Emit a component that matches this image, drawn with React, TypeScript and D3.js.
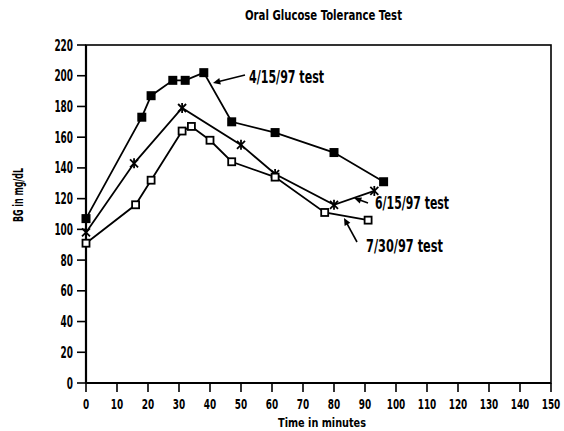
import React from "react";
import * as d3 from "d3";

const xTicks = [0, 10, 20, 30, 40, 50, 60, 70, 80, 90, 100, 110, 120, 130, 140, 150];
const yTicks = [0, 20, 40, 60, 80, 100, 120, 140, 160, 180, 200, 220];

const test0415Time = [0, 18, 21, 28, 32, 38, 47, 61, 80, 96];
const test0415BG = [107, 173, 187, 197, 197, 202, 170, 163, 150, 131];

const test0615Time = [0, 15.5, 31, 50, 61, 80, 93];
const test0615BG = [98, 143, 179, 155, 136, 116, 125];

const test0730Time = [0, 16, 21, 31, 34, 40, 47, 61, 77, 91];
const test0730BG = [91, 116, 132, 164, 167, 158, 144, 134, 111, 106];

const FONT = "'Liberation Sans Narrow', 'DejaVu Sans Condensed', 'Liberation Sans', sans-serif";

export default function App() {
  const W = 564, H = 431;
  const x = d3.scaleLinear().domain([0, 150]).range([86, 551]);
  const y = d3.scaleLinear().domain([0, 220]).range([383, 45]);
  const line = d3.line<[number, number]>().x(d => x(d[0])).y(d => y(d[1]));

  const s1 = test0415Time.map((t, i) => [t, test0415BG[i]] as [number, number]);
  const s2 = test0615Time.map((t, i) => [t, test0615BG[i]] as [number, number]);
  const s3 = test0730Time.map((t, i) => [t, test0730BG[i]] as [number, number]);

  const arrow = (x1: number, y1: number, x2: number, y2: number, key: string) => {
    const a = Math.atan2(y2 - y1, x2 - x1);
    const L = 8, w = 0.42;
    const p1 = [x2 - L * Math.cos(a - w), y2 - L * Math.sin(a - w)];
    const p2 = [x2 - L * Math.cos(a + w), y2 - L * Math.sin(a + w)];
    return (
      <g key={key}>
        <line x1={x1} y1={y1} x2={x2 - 4 * Math.cos(a)} y2={y2 - 4 * Math.sin(a)} stroke="#000" strokeWidth={1.6} />
        <polygon points={`${x2},${y2} ${p1[0]},${p1[1]} ${p2[0]},${p2[1]}`} fill="#000" />
      </g>
    );
  };

  const digitW = 6.2;

  return (
    <svg width={W} height={H} style={{ position: "absolute", left: 0, top: 0, background: "#fff" }} fontFamily={FONT}>
      <rect x={0} y={0} width={W} height={H} fill="#fff" />
      <text x={245} y={20} fontSize={14} fontWeight="bold" textLength={157} lengthAdjust="spacingAndGlyphs">Oral Glucose Tolerance Test</text>

      {/* frame */}
      <rect x={x(0)} y={y(220)} width={x(150) - x(0)} height={y(0) - y(220)} fill="none" stroke="#000" strokeWidth={1.6} />
      <line x1={x(0)} x2={x(0)} y1={y(220)} y2={y(0)} stroke="#000" strokeWidth={2.2} />
      <line x1={x(0)} x2={x(150)} y1={y(0)} y2={y(0)} stroke="#000" strokeWidth={2.2} />

      {yTicks.map(v => {
        const n = String(v).length;
        return (
          <g key={"y" + v}>
            <line x1={x(0) - 9} x2={x(0)} y1={y(v)} y2={y(v)} stroke="#000" strokeWidth={1.6} />
            <text x={73 - n * digitW} y={y(v) + 5.5} fontSize={15} fontWeight="bold" textLength={n * digitW} lengthAdjust="spacingAndGlyphs">{v}</text>
          </g>
        );
      })}
      {xTicks.map(v => {
        const n = String(v).length;
        return (
          <g key={"x" + v}>
            <line x1={x(v)} x2={x(v)} y1={y(0)} y2={y(0) + 9} stroke="#000" strokeWidth={1.6} />
            <text x={x(v) - (n * digitW) / 2} y={y(0) + 26} fontSize={14} fontWeight="bold" textLength={n * digitW} lengthAdjust="spacingAndGlyphs">{v}</text>
          </g>
        );
      })}
      <text x={278} y={427} fontSize={13} fontWeight="bold" textLength={88} lengthAdjust="spacingAndGlyphs">Time in minutes</text>
      <text transform="translate(23,222) rotate(-90)" fontSize={14} fontWeight="bold" textLength={54} lengthAdjust="spacingAndGlyphs">BG in mg/dL</text>

      {/* lines */}
      <path d={line(s1) || ""} fill="none" stroke="#000" strokeWidth={1.8} />
      <path d={line(s2) || ""} fill="none" stroke="#000" strokeWidth={1.8} />
      <path d={line(s3) || ""} fill="none" stroke="#000" strokeWidth={1.8} />

      {s1.map((d, i) => (
        <rect key={"m1" + i} x={x(d[0]) - 4.5} y={y(d[1]) - 4.5} width={9} height={9} fill="#000" />
      ))}
      {s2.map((d, i) => {
        const cx = x(d[0]), cy = y(d[1]), r = 4;
        return (
          <g key={"m2" + i} stroke="#000" strokeWidth={1.8}>
            <line x1={cx - r} y1={cy - r} x2={cx + r} y2={cy + r} />
            <line x1={cx - r} y1={cy + r} x2={cx + r} y2={cy - r} />
            <line x1={cx} y1={cy - r - 1} x2={cx} y2={cy + r + 1} />
          </g>
        );
      })}
      {s3.map((d, i) => (
        <rect key={"m3" + i} x={x(d[0]) - 3.5} y={y(d[1]) - 3.5} width={7} height={7} fill="#fff" stroke="#000" strokeWidth={1.8} />
      ))}

      {/* annotations */}
      <text x={249} y={83} fontSize={18} fontWeight="bold" textLength={75} lengthAdjust="spacingAndGlyphs">4/15/97 test</text>
      {arrow(245, 75, 213, 83, "a1")}
      <text x={375} y={209} fontSize={18} fontWeight="bold" textLength={74} lengthAdjust="spacingAndGlyphs">6/15/97 test</text>
      {arrow(368, 203, 354, 198, "a2")}
      <text x={366} y={252} fontSize={18} fontWeight="bold" textLength={77} lengthAdjust="spacingAndGlyphs">7/30/97 test</text>
      {arrow(357, 242, 344, 218, "a3")}
    </svg>
  );
}
